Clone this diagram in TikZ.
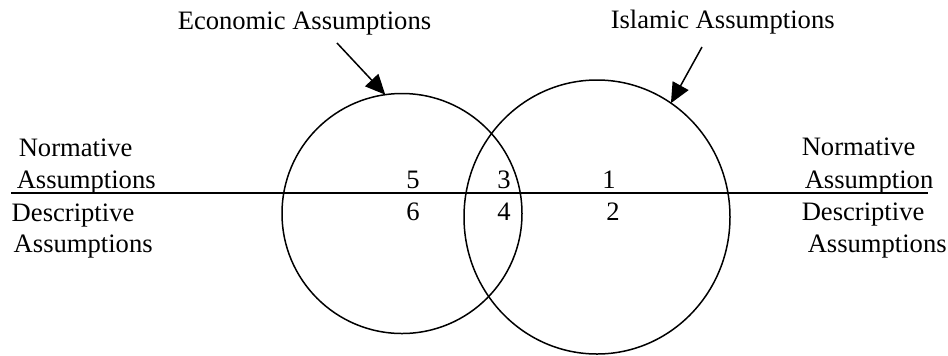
\documentclass[tikz,border=0pt]{standalone}
\usepackage{fontspec}
\setmainfont{Liberation Serif}
\usetikzlibrary{arrows.meta,shapes.geometric}
\tikzset{
  lbl/.style={anchor=base west, inner sep=0pt, font=\fontsize{13.3}{16}\selectfont},
  num/.style={anchor=base, inner sep=0pt, font=\fontsize{13.3}{16}\selectfont},
  ring/.style={draw, line width=0.75pt, inner sep=0pt, outer sep=0pt},
  pointer/.style={-{Triangle[length=10pt,width=9pt]}, line width=0.75pt}
}
\begin{document}
\begin{tikzpicture}[x=0.5pt,y=-0.5pt, line width=0.75pt]
            \useasboundingbox (0,0) rectangle (948,355);
            % the two sets
            \node[ring, circle, minimum size=120pt] (econ) at (402,213.5) {};
            \node[ring, ellipse, minimum width=133pt, minimum height=137pt] (islam) at (597,217) {};
            % titles and pointers
            \node[lbl] (econtxt) at (177,29) {Economic Assumptions};
            \node[lbl] (islamtxt) at (610,28) {Islamic Assumptions};
            \coordinate (econfrom) at (337,43);
            \coordinate (islamfrom) at (702,47);
            \draw[pointer] (econfrom) -- (econ.98);
            \draw[pointer] (islamfrom) -- (islam.57);
            % dividing line
            \coordinate (lineL) at (11,193);
            \coordinate (lineR) at (928,193);
            \draw (lineL) -- (lineR);
            % side labels
            \node[lbl] (normL)  at (18,156) {Normative};
            \node[lbl] (assL)   at (16,188) {Assumptions};
            \node[lbl] (descL)  at (11,221) {Descriptive};
            \node[lbl] (ass2L)  at (13,252) {Assumptions};
            \node[lbl] (normR)  at (801,155) {Normative};
            \node[lbl] (assR)   at (804,188) {Assumption};
            \node[lbl] (descR)  at (801,220) {Descriptive};
            \node[lbl] (ass2R)  at (807,252) {Assumptions};
            % region numbers
            \foreach \n/\x/\y in {5/413/188, 3/504/188, 1/609/188, 6/413/220, 4/504/220, 2/613/220} {
                \node[num] (r\n) at (\x,\y) {\n};
            }
        \end{tikzpicture}
\end{document}
